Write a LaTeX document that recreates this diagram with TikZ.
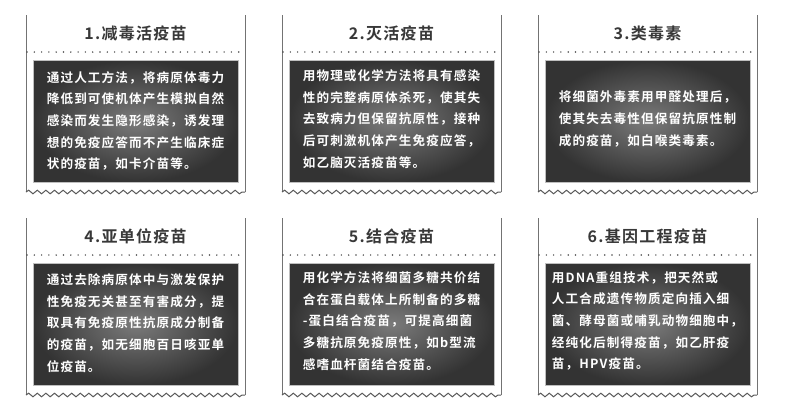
\documentclass[tikz,border=0pt]{standalone}
\usepackage{fontspec}
\setmainfont{Noto Sans CJK SC}
\newfontfamily\cjkb[LetterSpace=9]{Noto Sans CJK SC Bold}
\newfontfamily\cjkt[LetterSpace=8]{Noto Sans CJK SC Bold}
\usetikzlibrary{decorations.pathmorphing}
\tikzset{
 side/.style={draw=black!55,line width=1pt},
 wave/.style={draw=black!65,line width=1pt,decorate,decoration={snake,segment length=8.6pt,amplitude=1.8pt}},
 dots/.style={draw=black!70,line width=1.6pt,dash pattern=on 0pt off 7.3pt,line cap=round},
 darkbox/.style={draw=black!25,line width=1pt,inner color=black!52,outer color=black!80},
 ttl/.style={font=\cjkt\fontsize{16}{16}\selectfont,text=black!78},
 body/.style={font=\cjkb\fontsize{12.6}{21.6}\selectfont,text=white,align=left,anchor=center}
}
\newcommand{\card}[6]{%
 \begin{scope}[shift={(#1pt,-#2pt)}]
  \draw[side] (0,0) -- (0,-177pt);
  \draw[side] (219pt,0) -- (219pt,-177pt);
  \draw[wave] (0,-177pt) -- (219pt,-177pt);
  \node[ttl] (#3t) at (109.5pt,-18pt) {#4};
  \draw[dots] (1pt,-37pt) -- (219pt,-37pt);
  \path[darkbox] (7pt,-45pt) rectangle (212pt,-167pt);
  \node[body] (#3b) at (109.5pt,-#6pt) {#5};
 \end{scope}}
\begin{document}
\begin{tikzpicture}[x=1pt,y=1pt]
\useasboundingbox[fill=white] (0,0) rectangle (800,-410);
\card{26}{15}{a}{1.减毒活疫苗}{通过人工方法，将病原体毒力\\降低到可使机体产生模拟自然\\感染而发生隐形感染，诱发理\\想的免疫应答而不产生临床症\\状的疫苗，如卡介苗等。}{106}
\card{282}{15}{b}{2.灭活疫苗}{用物理或化学方法将具有感染\\性的完整病原体杀死，使其失\\去致病力但保留抗原性，接种\\后可刺激机体产生免疫应答，\\如乙脑灭活疫苗等。}{104}
\card{538}{15}{c}{3.类毒素}{将细菌外毒素用甲醛处理后，\\使其失去毒性但保留抗原性制\\成的疫苗，如白喉类毒素。}{104}
\card{26}{218}{d}{4.亚单位疫苗}{通过去除病原体中与激发保护\\性免疫无关甚至有害成分，提\\取具有免疫原性抗原成分制备\\的疫苗，如无细胞百日咳亚单\\位疫苗。}{105}
\card{282}{218}{e}{5.结合疫苗}{用化学方法将细菌多糖共价结\\合在蛋白载体上所制备的多糖\\-蛋白结合疫苗，可提高细菌\\多糖抗原免疫原性，如b型流\\感嗜血杆菌结合疫苗。}{103}
\card{538}{218}{f}{6.基因工程疫苗}{用DNA重组技术，把天然或\\人工合成遗传物质定向插入细\\菌、酵母菌或哺乳动物细胞中，\\经纯化后制得疫苗，如乙肝疫\\苗，HPV疫苗。}{103}
\end{tikzpicture}
\end{document}
